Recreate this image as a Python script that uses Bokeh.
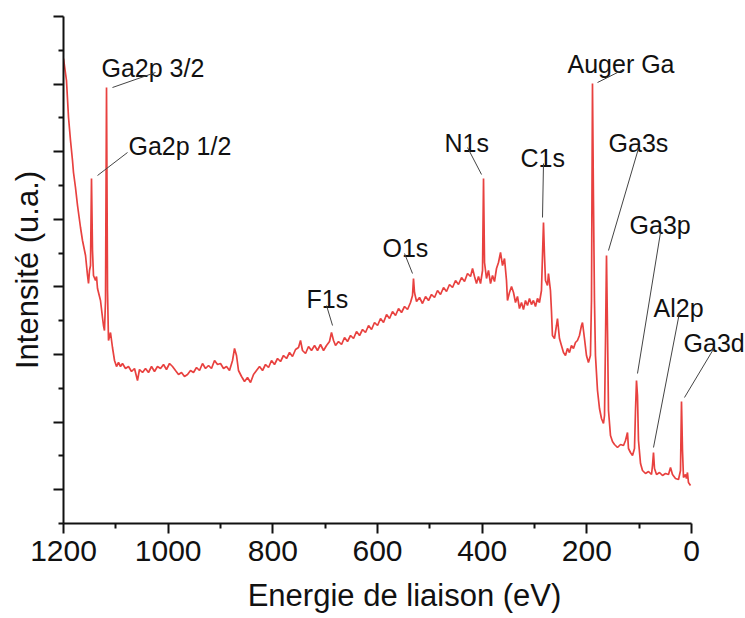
from bokeh.plotting import figure
from bokeh.models import Range1d, FixedTicker, Label, Arrow, CustomLabelingPolicy
from bokeh.embed import file_html
from bokeh.resources import INLINE

# ---- data (binding energy in eV, intensity in arbitrary units) ----
energy_ev = [
    1200.0, 1194.3, 1190.4, 1186.6, 1182.8, 1180.9, 1177.1, 1173.2, 1167.5, 1163.7,
    1157.9, 1154.1, 1152.2, 1150.3, 1148.4, 1146.5, 1144.6, 1142.7, 1138.8, 1136.9,
    1135.0, 1129.3, 1125.5, 1123.6, 1121.7, 1119.7, 1117.8, 1115.9, 1114.0, 1110.2,
    1106.4, 1102.5, 1098.7, 1094.9, 1091.1, 1087.3, 1081.5, 1075.8, 1070.0, 1064.3,
    1058.6, 1054.8, 1049.0, 1043.3, 1037.6, 1031.8, 1026.1, 1020.4, 1014.6, 1008.9,
    1003.2, 997.4, 991.7, 986.0, 980.2, 974.5, 968.8, 963.0, 957.3, 951.6,
    945.8, 940.1, 934.4, 928.6, 922.9, 917.2, 911.4, 905.7, 900.0, 894.2,
    888.5, 882.8, 877.0, 873.2, 869.4, 865.6, 859.8, 854.1, 848.4, 842.6,
    836.9, 831.2, 825.4, 819.7, 814.0, 808.2, 802.5, 796.8, 791.0, 785.3,
    779.6, 773.8, 768.1, 762.4, 756.6, 750.9, 747.1, 743.3, 737.5, 731.8,
    726.1, 720.3, 714.6, 708.9, 703.1, 697.4, 691.7, 687.9, 684.0, 680.2,
    674.5, 668.7, 663.0, 657.3, 651.5, 645.8, 640.1, 634.3, 628.6, 622.9,
    617.1, 611.4, 605.7, 599.9, 594.2, 588.5, 582.7, 577.0, 571.3, 565.5,
    559.8, 554.1, 548.3, 542.6, 536.9, 533.1, 531.2, 529.3, 525.4, 519.7,
    514.0, 508.2, 502.5, 496.8, 491.0, 485.3, 479.6, 473.8, 468.1, 462.4,
    456.6, 450.9, 445.2, 439.4, 433.7, 428.0, 422.2, 418.4, 414.6, 410.8,
    407.0, 403.1, 399.3, 397.4, 395.5, 391.7, 387.9, 384.0, 380.2, 376.4,
    372.6, 368.8, 364.9, 361.1, 357.3, 353.5, 351.6, 347.8, 343.9, 340.1,
    336.3, 332.5, 328.7, 324.8, 321.1, 317.2, 313.4, 309.6, 305.8, 302.0,
    298.1, 294.3, 290.5, 286.7, 284.7, 282.8, 280.9, 279.0, 275.2, 273.3,
    269.5, 267.6, 265.7, 261.8, 258.0, 256.1, 252.3, 248.5, 244.6, 240.8,
    237.0, 233.2, 229.4, 225.5, 221.7, 217.9, 214.1, 210.2, 208.3, 204.5,
    200.7, 196.9, 193.1, 191.1, 189.2, 187.3, 185.4, 183.5, 179.6, 175.8,
    172.0, 168.2, 166.2, 164.3, 162.4, 160.5, 158.6, 154.8, 151.0, 147.1,
    141.4, 135.6, 129.9, 126.1, 122.3, 120.4, 116.6, 112.7, 108.9, 107.0,
    105.1, 103.2, 101.3, 97.4, 93.6, 87.9, 82.1, 76.4, 74.5, 72.6,
    70.7, 66.8, 61.1, 55.4, 49.7, 43.9, 40.1, 36.3, 30.6, 24.8,
    21.0, 19.1, 17.2, 15.3, 11.5, 9.6, 7.7, 5.8, 1.9,
]
intensity = [
    46.5, 44.3, 40.6, 38.3, 36.3, 35.1, 33.6, 31.8, 29.6, 28.3,
    26.8, 24.8, 24.0, 25.3, 25.8, 34.5, 27.3, 24.8, 24.3, 24.7,
    23.5, 22.3, 20.6, 19.8, 19.3, 22.3, 43.6, 23.3, 18.3, 19.1,
    17.6, 16.3, 15.7, 16.1, 15.7, 16.0, 15.5, 15.7, 15.2, 15.5,
    14.3, 15.4, 15.1, 15.5, 15.1, 15.7, 15.2, 15.7, 15.5, 15.9,
    15.4, 16.0, 15.7, 15.3, 14.9, 15.1, 14.7, 14.9, 15.3, 15.1,
    15.6, 15.3, 16.0, 15.5, 15.8, 15.5, 16.3, 15.9, 16.0, 15.5,
    15.7, 15.3, 16.3, 17.5, 16.8, 15.3, 14.7, 14.2, 14.6, 14.1,
    14.9, 15.3, 15.7, 15.3, 15.9, 15.6, 16.3, 15.9, 16.5, 16.2,
    16.8, 16.5, 17.1, 16.7, 17.4, 17.6, 18.3, 17.3, 17.0, 17.7,
    17.3, 17.8, 17.3, 17.9, 17.3, 17.8, 18.2, 19.1, 18.3, 17.8,
    18.2, 17.9, 18.6, 18.2, 18.8, 18.5, 19.2, 18.8, 19.4, 19.1,
    19.8, 19.4, 20.1, 19.8, 20.5, 20.1, 20.9, 20.5, 21.2, 20.8,
    21.5, 21.1, 21.7, 21.4, 22.1, 22.8, 24.5, 23.1, 22.2, 22.6,
    22.0, 22.7, 22.3, 22.9, 22.6, 23.3, 22.9, 23.6, 23.2, 23.9,
    23.6, 24.3, 23.9, 24.6, 24.2, 25.0, 24.7, 25.5, 24.7, 24.0,
    24.7, 24.0, 25.3, 34.5, 26.1, 24.5, 25.3, 24.0, 24.8, 24.2,
    25.5, 26.1, 27.1, 25.8, 26.5, 24.3, 22.3, 23.1, 23.7, 23.1,
    22.1, 22.7, 21.5, 22.1, 21.4, 22.3, 21.8, 22.5, 21.9, 22.3,
    21.7, 22.5, 22.1, 23.3, 26.8, 30.1, 26.8, 24.3, 23.8, 25.0,
    23.3, 21.3, 18.8, 18.5, 19.8, 20.5, 18.5, 17.8, 17.1, 16.8,
    17.5, 17.1, 17.8, 17.5, 18.1, 18.3, 18.8, 19.8, 20.1, 18.5,
    16.8, 16.1, 16.8, 22.3, 44.0, 32.3, 22.3, 16.8, 13.3, 11.5,
    10.5, 10.0, 10.8, 18.3, 26.8, 19.3, 11.3, 8.8, 8.2, 7.9,
    7.6, 7.9, 7.8, 8.3, 9.1, 7.5, 7.1, 6.8, 7.5, 11.3,
    14.3, 12.8, 8.3, 6.0, 5.3, 5.0, 5.2, 4.9, 5.8, 7.1,
    5.5, 4.9, 5.1, 4.8, 5.0, 4.9, 5.6, 4.9, 4.5, 4.4,
    5.3, 12.2, 7.3, 4.6, 4.9, 4.5, 5.1, 4.1, 3.8,
]

# peak labels
peak_names = ["Ga2p 3/2", "Ga2p 1/2", "F1s", "O1s", "N1s", "C1s",
              "Auger Ga", "Ga3s", "Ga3p", "Al2p", "Ga3d"]

x_ticks = [1200, 1000, 800, 600, 400, 200, 0]
x_minor_ticks = [1100, 900, 700, 500, 300, 100]

# annotation layout (label anchor, leader start, leader end) in data units
label_layout = [
    (1127.4, 45.6, 1106.4, 43.6, 1024.2, 45.1),
    (1075.8, 37.8, 1135.0, 34.8, 1077.7, 37.1),
    (735.6, 22.5, 685.9, 19.8, 697.4, 21.8),
    (590.4, 27.6, 533.1, 25.0, 548.3, 27.0),
    (471.9, 38.1, 401.2, 34.9, 428.0, 37.6),
    (326.7, 36.6, 284.7, 30.6, 282.8, 36.0),
    (236.9, 46.0, 179.6, 44.1, 129.9, 45.4),
    (158.5, 38.1, 158.6, 27.3, 101.3, 37.5),
    (118.4, 29.9, 103.2, 15.0, 59.2, 29.1),
    (72.5, 21.6, 72.6, 7.6, 22.9, 21.1),
    (15.2, 18.1, 13.4, 12.6, -43.9, 17.6),
]

FONT = "Liberation Sans"
TXT = "#111111"

y_top = 50.7
step = y_top / 15.0
y_major = [step * (2 * k + 1) for k in range(8)]
y_minor = [step * (2 * k) for k in range(8)]

# x range runs past 0 eV so the right-hand labels are not clipped;
# the axis itself is bounded to 1200..0
p = figure(width=745, height=618, output_backend="svg", toolbar_location=None,
           x_range=Range1d(1200, -103.2), y_range=Range1d(0, y_top),
           min_border_left=63, min_border_right=0, min_border_top=16,
           min_border_bottom=95)
p.outline_line_color = None
p.xgrid.visible = False
p.ygrid.visible = False
p.background_fill_color = "white"
p.border_fill_color = "white"

p.line(energy_ev, intensity, line_color="#e8413f", line_width=1.7)

for name, (lx, ly, x0, y0, x1, y1) in zip(peak_names, label_layout):
    p.add_layout(Label(x=lx, y=ly, text=name, text_font=FONT,
                       text_font_size="25px", text_color=TXT,
                       text_align="left", text_baseline="alphabetic"))
    p.add_layout(Arrow(start=None, end=None, x_start=x0, y_start=y0,
                       x_end=x1, y_end=y1, line_color="#444444",
                       line_width=1))

xa = p.xaxis[0]
xa.ticker = FixedTicker(ticks=x_ticks, minor_ticks=x_minor_ticks)
xa.bounds = (0, 1200)
xa.axis_label = "Energie de liaison (eV)"
ya = p.yaxis[0]
ya.ticker = FixedTicker(ticks=y_major, minor_ticks=y_minor)
ya.axis_label = "Intensité (u.a.)"
ya.major_label_overrides = {t: "" for t in y_major}
ya.major_label_policy = CustomLabelingPolicy(
    code="for (const i of indices) indices.unset(i)")
ya.major_label_standoff = 0

for ax in (xa, ya):
    ax.axis_line_width = 2
    ax.axis_line_color = "#111111"
    ax.major_tick_line_width = 2
    ax.minor_tick_line_width = 2
    ax.major_tick_line_color = "#111111"
    ax.minor_tick_line_color = "#111111"
    ax.major_tick_out = 10
    ax.major_tick_in = 0
    ax.minor_tick_out = 5
    ax.minor_tick_in = 0
    ax.axis_label_text_font = FONT
    ax.axis_label_text_font_style = "normal"
    ax.axis_label_text_font_size = "31px"
    ax.axis_label_text_color = TXT
    ax.major_label_text_font = FONT
    ax.major_label_text_color = TXT

xa.major_label_text_font_size = "30px"
xa.major_label_standoff = 7
xa.axis_label_standoff = 14
ya.axis_label_standoff = 9

open("out.html", "w").write(file_html(p, INLINE))
